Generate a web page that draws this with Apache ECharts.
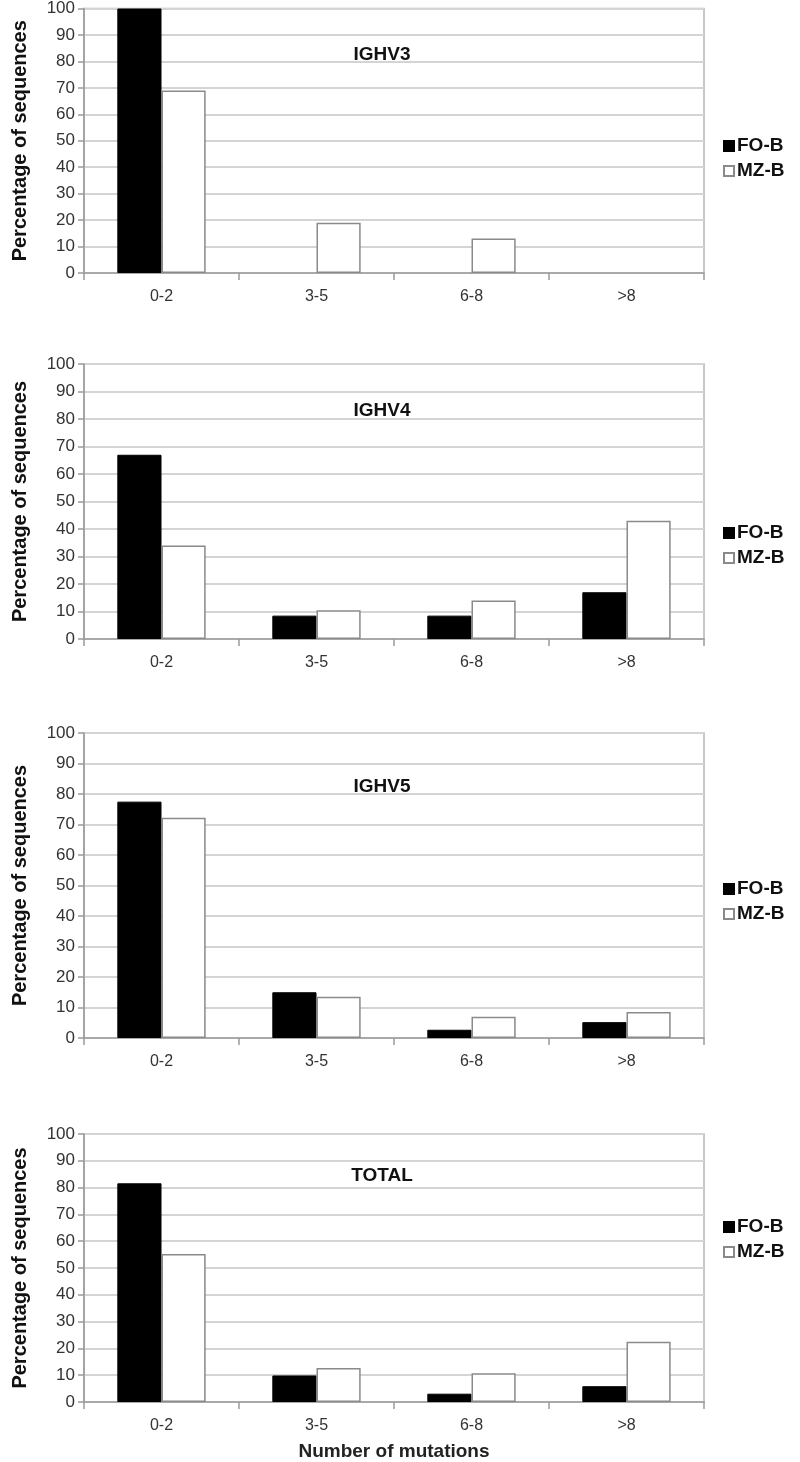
<!DOCTYPE html>
<html>
<head>
<meta charset="utf-8">
<script src="https://cdn.jsdelivr.net/npm/echarts@6/dist/echarts.min.js"></script>
<style>
  html, body { margin: 0; padding: 0; background: #fff; }
  #grafico { width: 800px; height: 1462px; }
</style>
</head>
<body>
<div id="grafico"></div>
<script>
// datos
var categorias = ['0-2', '3-5', '6-8', '>8'];
var titulos = ['IGHV3', 'IGHV4', 'IGHV5', 'TOTAL'];
var ticksY = [0, 10, 20, 30, 40, 50, 60, 70, 80, 90, 100];

var foB_IGHV3 = [100, 0, 0, 0];
var mzB_IGHV3 = [69, 19, 13, 0];
var foB_IGHV4 = [67, 8.5, 8.5, 17];
var mzB_IGHV4 = [34, 10.5, 14, 43];
var foB_IGHV5 = [77.5, 15, 2.7, 5.2];
var mzB_IGHV5 = [72.2, 13.5, 7, 8.5];
var foB_TOTAL = [81.6, 9.9, 3.1, 5.9];
var mzB_TOTAL = [55.2, 12.7, 10.7, 22.5];

var datosFO = [foB_IGHV3, foB_IGHV4, foB_IGHV5, foB_TOTAL];
var datosMZ = [mzB_IGHV3, mzB_IGHV4, mzB_IGHV5, mzB_TOTAL];

// posiciones de cada panel: [top, height, titleTop, legendTop]
var paneles = [
  [8, 265, 40, 131],
  [364, 275, 396, 518],
  [733, 305, 772, 874],
  [1134, 271, 1161, 1212]
];

var fuente = '"Liberation Sans", Arial, sans-serif';

// las barras con valor 0 no se dibujan (sin borde)
function armarDatos(valores) {
  return valores.map(function (v) {
    return v === 0 ? { value: v, itemStyle: { borderWidth: 0, opacity: 0 } } : v;
  });
}

var grids = [], xAxes = [], yAxes = [], series = [], titles = [], legends = [];

for (var i = 0; i < 4; i++) {
  var p = paneles[i];
  grids.push({
    left: 84, width: 620, top: p[0], height: p[1],
    show: true, borderColor: '#b5b5b5', borderWidth: 1.5, backgroundColor: '#fff'
  });
  xAxes.push({
    type: 'category', gridIndex: i, data: categorias,
    axisLine: { lineStyle: { color: '#9a9a9a', width: 1.5 } },
    axisTick: { show: true, length: 7, alignWithLabel: false, lineStyle: { color: '#9a9a9a', width: 1.5 } },
    axisLabel: { color: '#333', fontSize: 16, fontFamily: fuente, margin: 16 },
    name: i === 3 ? 'Number of mutations' : '',
    nameLocation: 'middle', nameGap: 40,
    nameTextStyle: { color: '#222', fontSize: 19, fontWeight: 'bold', fontFamily: fuente }
  });
  yAxes.push({
    type: 'value', gridIndex: i, min: ticksY[0], max: ticksY[ticksY.length - 1], interval: 10,
    axisLine: { show: true, lineStyle: { color: '#9a9a9a', width: 1.5 } },
    axisTick: { show: true, length: 6, lineStyle: { color: '#9a9a9a', width: 1.5 } },
    axisLabel: { color: '#333', fontSize: 17, fontFamily: fuente, margin: 9 },
    splitLine: { lineStyle: { color: '#d4d4d4', width: 2 } },
    name: 'Percentage of sequences', nameLocation: 'middle', nameRotate: 90, nameGap: 54,
    nameTextStyle: { color: '#111', fontSize: 20, fontWeight: 'bold', fontFamily: fuente }
  });
  series.push({
    name: 'FO-B', type: 'bar', xAxisIndex: i, yAxisIndex: i, data: armarDatos(datosFO[i]),
    barGap: '0%', barCategoryGap: '43%',
    itemStyle: { color: '#000', borderColor: '#000', borderWidth: 1 }
  });
  series.push({
    name: 'MZ-B', type: 'bar', xAxisIndex: i, yAxisIndex: i, data: armarDatos(datosMZ[i]),
    barGap: '0%', barCategoryGap: '43%',
    itemStyle: { color: '#fff', borderColor: '#8a8a8a', borderWidth: 1.5 }
  });
  titles.push({
    text: titulos[i], left: 377, top: p[2], textAlign: 'center',
    textStyle: { color: '#111', fontSize: 19, fontWeight: 'bold', fontFamily: fuente }
  });
  legends.push({
    data: ['FO-B', 'MZ-B'], orient: 'vertical', left: 718, top: p[3],
    icon: 'rect', itemWidth: 10, itemHeight: 10, itemGap: 5,
    selectedMode: false,
    textStyle: { color: '#111', fontSize: 19, lineHeight: 20, fontWeight: 'bold', fontFamily: fuente, padding: [0, 0, 0, -2] }
  });
}

var myChart = echarts.init(document.getElementById('grafico'));
myChart.setOption({
  animation: false,
  backgroundColor: '#fff',
  title: titles,
  legend: legends,
  grid: grids,
  xAxis: xAxes,
  yAxis: yAxes,
  series: series
});
</script>
</body>
</html>
